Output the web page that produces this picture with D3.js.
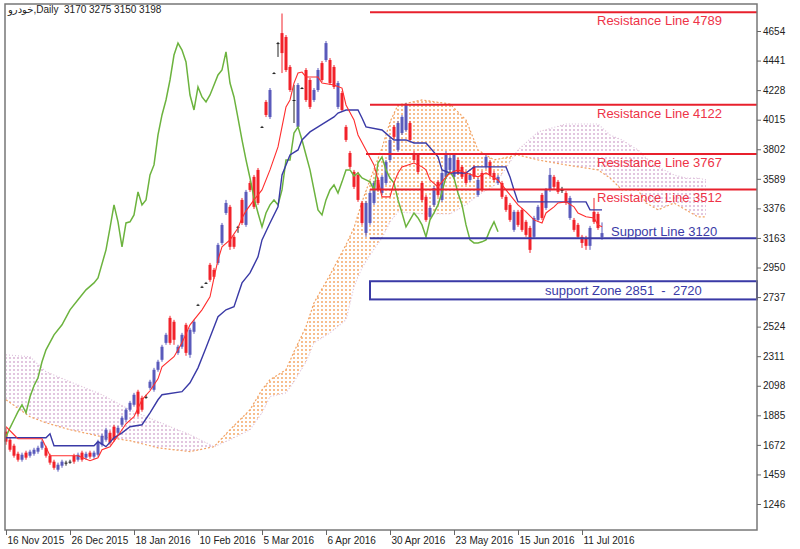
<!DOCTYPE html>
<html>
<head>
<meta charset="utf-8">
<script src="https://cdnjs.cloudflare.com/ajax/libs/d3/7.8.5/d3.min.js"></script>
<style>
body{margin:0;background:#fff;}
svg{display:block;font-family:"Liberation Sans","DejaVu Sans",sans-serif;}
</style>
</head>
<body>
<script>
// daily candles, one value per bar (bar 0 = 16 Nov 2015)
var openP  = [1767,1709,1666,1608,1565,1616,1594,1608,1623,1651,1651,1594,1551,1493,1522,1544,1551,1594,1565,1616,
              1580,1616,1587,1601,1673,1709,1759,1803,1759,1817,1853,1925,1961,2055,2011,2018,2083,2069,2213,2285,
              2407,2587,2559,2335,2379,2537,2321,2487,2681,2811,2839,2969,2933,2983,3127,3343,3387,3171,3243,3437,
              3257,3559,3603,3653,3963,4143,4034,4351,4567,4639,4611,4395,4157,3963,4243,4373,4301,4157,4229,4423,
              4445,4445,4395,4107,4207,3963,3775,3639,3617,3415,3199,3271,3415,3581,3487,3559,3725,3963,3797,3919,
              3941,3991,3775,3761,3559,3459,3315,3401,3567,3437,3603,3653,3603,3725,3675,3631,3581,3675,3473,3631,
              3675,3711,3631,3559,3559,3459,3401,3221,3351,3365,3279,3235,3171,3293,3473,3379,3509,3603,3567,3509,
              3487,3307,3293,3257,3171,3163,3106,3351,3336,3170];
var highP  = [1795,1723,1680,1623,1616,1630,1637,1651,1666,1709,1666,1608,1565,1544,1565,1558,1565,1608,1616,1630,
              1623,1630,1630,1709,1752,1795,1774,1817,1810,1882,1939,1989,2047,2069,2026,2033,2141,2227,2285,2393,
              2479,2602,2573,2393,2479,2551,2515,2573,2688,2818,2846,2983,2947,3127,3271,3437,3401,3185,3250,3451,
              3509,3574,3617,3667,3970,4157,4243,4358,4575,4780,4625,4409,4265,4279,4250,4387,4315,4243,4387,4438,
              4582,4459,4409,4294,4222,3977,3790,3653,3639,3430,3430,3502,3574,3595,3617,3725,3883,3977,4006,4049,
              4135,4006,3790,3775,3574,3473,3394,3538,3581,3646,3790,3761,3775,3740,3689,3646,3631,3689,3595,3646,
              3761,3725,3646,3617,3574,3473,3415,3365,3365,3379,3293,3250,3322,3401,3487,3523,3667,3617,3581,3531,
              3502,3466,3307,3271,3185,3178,3250,3451,3351,3275];
var lowP   = [1673,1623,1580,1551,1551,1565,1580,1594,1608,1637,1580,1529,1493,1479,1507,1522,1536,1536,1551,1551,
              1565,1572,1572,1587,1659,1695,1673,1695,1745,1803,1839,1911,1947,1875,1911,2004,2069,2055,2199,2271,
              2393,2393,2393,2321,2364,2314,2299,2472,2674,2803,2832,2847,2868,2969,3113,3329,3077,3084,3200,3257,
              3243,3495,3372,3401,3955,4034,4020,4344,4467,4351,4359,4215,3991,3949,4236,4143,4092,4143,4215,4287,
              4431,4265,4236,4092,4071,3855,3660,3516,3423,3257,3171,3257,3401,3495,3473,3545,3711,3876,3783,3905,
              3927,3855,3711,3624,3422,3279,3300,3387,3459,3423,3588,3638,3588,3617,3588,3545,3567,3588,3459,3495,
              3660,3603,3567,3545,3444,3351,3279,3207,3243,3207,3171,3055,3156,3279,3293,3365,3495,3516,3480,3487,
              3401,3293,3207,3156,3091,3077,3077,3264,3221,3150];
var closeP = [1695,1637,1594,1565,1601,1580,1623,1637,1651,1695,1594,1544,1507,1529,1551,1544,1551,1551,1601,1565,
              1608,1587,1616,1695,1738,1781,1687,1709,1795,1867,1925,1975,2033,1896,1925,2018,2127,2213,2271,2379,
              2465,2407,2429,2379,2465,2335,2501,2559,2681,2811,2839,2861,2883,3113,3257,3415,3099,3099,3243,3271,
              3495,3509,3387,3415,3963,4049,4229,4351,4567,4495,4373,4229,4157,4265,4243,4157,4107,4229,4373,4301,
              4567,4279,4251,4279,4085,3869,3675,3531,3437,3271,3415,3487,3559,3509,3603,3711,3869,3891,3991,4035,
              4121,3869,3725,3639,3437,3293,3379,3523,3473,3631,3775,3739,3761,3631,3603,3559,3617,3603,3581,3509,
              3747,3617,3581,3603,3459,3365,3293,3351,3257,3221,3185,3077,3307,3387,3307,3509,3617,3531,3495,3509,
              3415,3451,3221,3171,3127,3106,3235,3279,3235,3198];

// tenkan-sen (red), read at its corners
var tenkanIdx = [0,2,3,9,11,18,21,23,24,26,28,30,32,34,36,38,39,42,44,46,49,51,52,53,54,56,58,59,60,62,64,66,68,69,70,71,72,73,74,75,
                 78,79,82,84,85,87,88,90,92,93,94,96,97,98,99,102,104,105,106,108,110,111,113,115,118,120,123,125,127,128,
                 130,132,134,135,137,138,140,142,143,145,147,148,149];
var tenkanVal = [1803,1745,1716,1716,1594,1594,1558,1579,1637,1659,1738,1824,1875,1997,2062,2148,2235,2307,2407,2537,2645,2739,2875,3005,3099,3149,3235,3307,3358,3437,3509,3653,3819,3963,4107,4157,4279,4351,4358,4323,
                 4323,4279,4265,4243,4121,4013,3905,3797,3689,3581,3459,3459,3559,3631,3675,3703,3675,3653,3581,3531,3603,3631,3653,3631,3603,3631,3581,3509,3437,3401,
                 3351,3293,3271,3343,3387,3415,3423,3387,3343,3315,3307,3257,3243];

// kijun-sen (blue)
var kijunIdx = [0,10,11,12,22,23,25,27,29,31,34,36,38,39,44,46,48,50,53,55,57,58,59,61,63,64,66,68,69,71,73,74,76,78,82,83,85,88,89,90,
                94,96,97,100,102,105,108,109,111,115,117,125,126,127,128,145,146,149];
var kijunVal = [1723,1723,1752,1666,1666,1695,1659,1723,1759,1803,1817,1903,1997,2033,2055,2119,2227,2371,2595,2645,2667,2753,2839,2911,3027,3149,3271,3387,3617,3761,3797,3869,3927,3963,4035,4063,4085,4085,4027,3963,
                3941,3891,3869,3869,3847,3847,3747,3653,3631,3631,3675,3675,3603,3509,3423,3423,3365,3365];

// chikou span (green), 26 bars back
var chikouIdx = [0,1,2,3,4,5,6,7,8,9,10,12,14,16,18,20,22,23,25,26,27,28,29,30,31,32,33,34,35,36,37,38,39,40,41,42,43,44,45,46,
                 47,48,49,50,51,52,53,54,55,56,57,58,59,60,61,62,63,64,65,66,67,68,69,70,71,72,73,74,75,76,77,78,79,80,81,82,83,84,85,86,
                 87,88,89,90,91,92,93,94,95,96,97,98,99,100,101,102,103,104,105,106,107,108,109,110,111,112,113,114,115,116,117,118,119,120,121,122,123];
var chikouVal = [1731,1795,1853,1911,1961,1903,2019,2098,2155,2271,2357,2465,2537,2645,2717,2789,2839,2875,3077,3235,3401,3279,3099,3271,3279,3329,3495,3401,3437,3617,3689,3905,4049,4157,4301,4481,4567,4517,4431,4193,
                 4085,4251,4179,4143,4193,4265,4337,4373,4503,4279,4179,4027,3869,3725,3595,3451,3343,3243,3343,3401,3437,3401,3509,3725,3725,3919,3963,3869,3761,3653,3509,3365,3329,3437,3509,3545,3487,3567,3653,3653,
                 3610,3631,3595,3581,3567,3509,3703,3747,3653,3595,3559,3437,3343,3243,3293,3343,3307,3257,3171,3293,3343,3401,3495,3603,3639,3595,3487,3401,3257,3149,3127,3127,3135,3149,3221,3279,3207];

// senkou span A / B, already shifted 26 bars ahead
var cloudIdx = [0,6,10,16,24,31,38,46,52,56,61,64,66,70,72,75,77,81,85,87,89,91,94,96,98,104,111,115,118,122,128,133,140,148,151,154,158,160,163,167,170,173,175];
var spanA    = [1997,1875,1831,1781,1731,1702,1651,1623,1659,1781,1925,2069,2141,2213,2343,2523,2695,2897,3113,3235,3423,3581,3811,3999,4121,4157,4128,4013,3797,3725,3761,3725,3689,3653,3595,3509,3509,3415,3365,3415,3365,3315,3315];
var spanB    = [2321,2307,2199,2127,2033,1925,1839,1745,1659,1709,1781,1903,2019,2047,2127,2271,2407,2479,2573,2811,2947,3041,3163,3279,3351,3336,3336,3401,3473,3538,3797,3927,3984,3984,3905,3869,3797,3739,3675,3617,3595,3595,3581];

// drawn levels
var resistVals  = [4789,4122,3767,3512];
var resistStart = [91,91,90,91];
var supportVal = 3160, supportText = "Support Line 3120", supportStart = 91;
var zoneTop = 2851, zoneBottom = 2720, zoneText = "support Zone 2851  -  2720";

var yTicks = [4654,4441,4228,4015,3802,3589,3376,3163,2950,2737,2524,2311,2098,1885,1672,1459,1246];
var xTickIdx = [0,16,32,48,64,80,96,112,128,144];
var xTickLabels = ['16 Nov 2015','26 Dec 2015','18 Jan 2016','10 Feb 2016','5 Mar 2016','6 Apr 2016','30 Apr 2016','23 May 2016','15 Jun 2016','11 Jul 2016'];

var width = 800, height = 549;
var plot = {left:5, right:757, top:4, bottom:530};

var x = d3.scaleLinear().domain([0,149]).range([6,602]);
var y = d3.scaleLinear().domain([1246,4654]).range([504,31]);

var svg = d3.select("body").append("svg")
            .attr("width",width)
            .attr("height",height);

var defs = svg.append("defs");

// dotted fills for the cloud
function dots(id,color){
    var p = defs.append("pattern").attr("id",id)
                .attr("width",4).attr("height",4)
                .attr("patternUnits","userSpaceOnUse");
    p.append("circle").attr("cx",2).attr("cy",2).attr("r",1).attr("fill",color);
}
dots("dotOrange","#f5a868");
dots("dotThistle","#d9b3d5");

var cloud = d3.range(cloudIdx.length).map(function(k){ return {i:cloudIdx[k], a:spanA[k], b:spanB[k]}; });

// clip: above span B keeps A>B, below span B keeps B>A
defs.append("clipPath").attr("id","aboveB")
    .append("path")
    .attr("d", d3.area().x(function(d){ return x(d.i); }).y0(plot.top).y1(function(d){ return y(d.b); })(cloud));
defs.append("clipPath").attr("id","belowB")
    .append("path")
    .attr("d", d3.area().x(function(d){ return x(d.i); }).y0(function(d){ return y(d.b); }).y1(plot.bottom)(cloud));

var cloudArea = d3.area()
                .x(function(d){ return x(d.i); })
                .y0(function(d){ return y(d.a); })
                .y1(function(d){ return y(d.b); });

var chartGroup = svg.append("g");

chartGroup.append("path").attr("d",cloudArea(cloud))
        .attr("fill","url(#dotOrange)").attr("clip-path","url(#aboveB)");
chartGroup.append("path").attr("d",cloudArea(cloud))
        .attr("fill","url(#dotThistle)").attr("clip-path","url(#belowB)");

chartGroup.append("path")
        .attr("d",d3.line().x(function(d){ return x(d.i); }).y(function(d){ return y(d.a); })(cloud))
        .attr("fill","none").attr("stroke","#f2a262").attr("stroke-width",1.2).attr("stroke-dasharray","2,2");
chartGroup.append("path")
        .attr("d",d3.line().x(function(d){ return x(d.i); }).y(function(d){ return y(d.b); })(cloud))
        .attr("fill","none").attr("stroke","#ddc2dd").attr("stroke-width",1.2).attr("stroke-dasharray","1,2");

// candles
var bars = d3.range(openP.length).map(function(i){
    return {i:i, o:openP[i], h:highP[i], l:lowP[i], c:closeP[i]};
});
function candleColor(d){
    if (d.c > d.o) return "#5a5abb";
    if (d.c < d.o) return "#f2222a";
    return "#222";
}
var candle = chartGroup.selectAll(".candle").data(bars).enter().append("g").attr("class","candle");
candle.append("line")
      .attr("x1",function(d){ return x(d.i); })
      .attr("x2",function(d){ return x(d.i); })
      .attr("y1",function(d){ return y(d.h); })
      .attr("y2",function(d){ return y(d.l); })
      .attr("stroke",candleColor)
      .attr("stroke-width",1);
candle.append("rect")
      .attr("x",function(d){ return x(d.i)-1.5; })
      .attr("width",3)
      .attr("y",function(d){ return y(Math.max(d.o,d.c)); })
      .attr("height",function(d){ return Math.max(1, y(Math.min(d.o,d.c)) - y(Math.max(d.o,d.c))); })
      .attr("fill",candleColor);

// ichimoku lines
function drawLine(idx,vals,color,w){
    chartGroup.append("path")
        .attr("d",d3.line().x(function(d){ return x(d[0]); }).y(function(d){ return y(d[1]); })(d3.zip(idx,vals)))
        .attr("fill","none")
        .attr("stroke",color)
        .attr("stroke-width",w);
}
drawLine(chikouIdx,chikouVal,"#6cb33e",1.5);
drawLine(kijunIdx,kijunVal,"#3a3aa6",1.4);
drawLine(tenkanIdx,tenkanVal,"#ff2d2d",1.1);

// resistance lines
resistVals.forEach(function(v,k){
    chartGroup.append("line")
        .attr("x1",x(resistStart[k])).attr("x2",plot.right)
        .attr("y1",y(v)).attr("y2",y(v))
        .attr("stroke","#e8202c").attr("stroke-width",2);
    chartGroup.append("text")
        .attr("x",597).attr("y",y(v)+13)
        .attr("font-size",13).attr("fill","#ee3347")
        .text("Resistance Line " + v);
});

// support line + zone
chartGroup.append("line")
    .attr("x1",x(supportStart)).attr("x2",plot.right)
    .attr("y1",y(supportVal)).attr("y2",y(supportVal))
    .attr("stroke","#3a3aa6").attr("stroke-width",2);
chartGroup.append("text")
    .attr("x",611).attr("y",y(supportVal)-2)
    .attr("font-size",13).attr("fill","#3a3aa6")
    .text(supportText);

chartGroup.append("rect")
    .attr("x",x(supportStart)).attr("width",plot.right - x(supportStart))
    .attr("y",y(zoneTop)).attr("height",y(zoneBottom)-y(zoneTop))
    .attr("fill","#fff").attr("stroke","#3a3aa6").attr("stroke-width",2);
chartGroup.append("text")
    .attr("x",545).attr("y",(y(zoneTop)+y(zoneBottom))/2+5)
    .attr("font-size",13).attr("fill","#3a3aa6")
    .style("white-space","pre")
    .text(zoneText);

// frame
svg.append("rect")
    .attr("x",plot.left).attr("y",plot.top)
    .attr("width",plot.right-plot.left).attr("height",plot.bottom-plot.top)
    .attr("fill","none").attr("stroke","#777").attr("stroke-width",1.5);

// axes
var yAxis = d3.axisRight(y).tickValues(yTicks).tickSize(4).tickPadding(2).tickFormat(d3.format("d"));
var xAxis = d3.axisBottom(x).tickValues(xTickIdx).tickSize(5).tickPadding(2)
              .tickFormat(function(d,i){ return xTickLabels[i]; });

var gy = svg.append("g").attr("class","axis y")
            .attr("transform","translate("+plot.right+",0)")
            .call(yAxis);
var gx = svg.append("g").attr("class","axis x")
            .attr("transform","translate(0,"+plot.bottom+")")
            .call(xAxis);

[gx,gy].forEach(function(g){
    g.select(".domain").remove();
    g.selectAll("line").attr("stroke","#666");
    g.selectAll("text").attr("fill","#222").attr("font-size",10)
        .attr("font-family","Liberation Sans, DejaVu Sans, sans-serif");
});
gx.selectAll("text").attr("text-anchor","start").attr("x",1);

// header
svg.append("text")
    .attr("x",8).attr("y",13)
    .attr("font-size",10).attr("fill","#222")
    .style("white-space","pre")
    .text("خودرو,Daily  3170 3275 3150 3198");
</script>
</body>
</html>
